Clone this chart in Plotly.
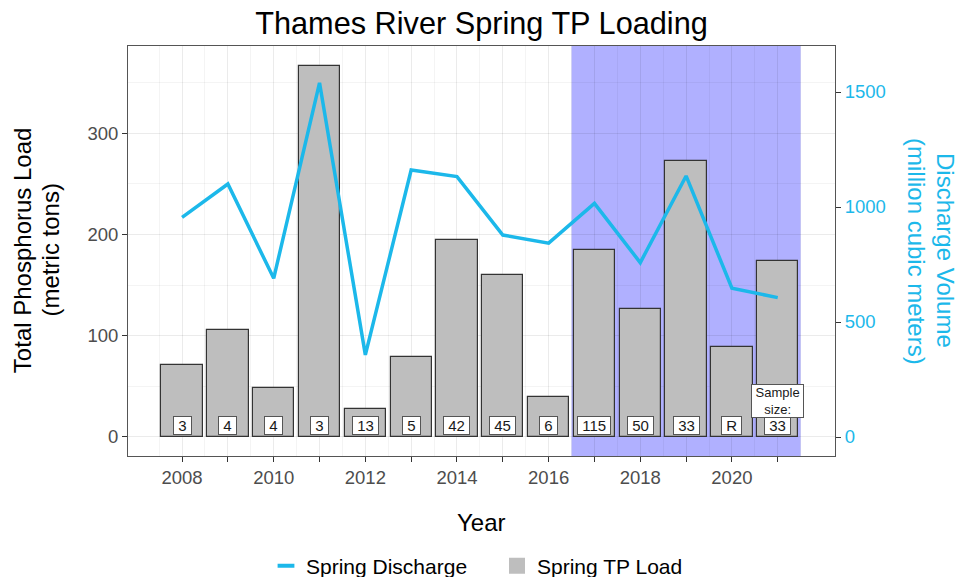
import plotly.graph_objects as go

# Spring totals for the Thames River
years = [2008, 2009, 2010, 2011, 2012, 2013, 2014, 2015, 2016, 2017, 2018, 2019, 2020, 2021]
tp_load = [71, 106, 48, 366, 28, 79, 194, 160, 39, 185, 126, 272, 89, 174]           # metric tons
discharge = [955, 1100, 690, 1540, 357, 1161, 1132, 878, 843, 1016, 758, 1135, 647, 606]  # million m^3
sample_size = ["3", "4", "4", "3", "13", "5", "42", "45", "6", "115", "50", "33", "R", "33"]
tick_labels = ["2008", "", "2010", "", "2012", "", "2014", "", "2016", "", "2018", "", "2020", ""]

BLUE = "#1CB8EA"
BAR_GREY = "#BEBEBE"
GREY_TXT = "#4D4D4D"
FONT = "Liberation Sans, Arial, sans-serif"
NBSP = "\u00a0"

fig = go.Figure()

fig.add_trace(go.Bar(
    x=years, y=tp_load, width=0.9, name="Spring TP Load", showlegend=False,
    marker=dict(color=BAR_GREY, line=dict(color="#333333", width=1.2)),
))
fig.add_trace(go.Scatter(
    x=years, y=discharge, mode="lines", name="Spring Discharge", yaxis="y2",
    line=dict(color=BLUE, width=3.5), showlegend=False,
))
# Legend keys: a short dash for the discharge line and a filled square for the bars
fig.add_trace(go.Scatter(
    x=[None], y=[None], mode="markers", name="Spring Discharge",
    marker=dict(symbol="line-ew", size=12, line=dict(color=BLUE, width=4)), legendrank=1,
))
fig.add_trace(go.Scatter(
    x=[None], y=[None], mode="markers", name="Spring TP Load",
    marker=dict(symbol="square", size=16, color=BAR_GREY), legendrank=2,
))

# Highlighted period 2017-2021
fig.add_shape(type="rect", xref="x", yref="paper", x0=2016.5, x1=2021.5, y0=0, y1=1,
              fillcolor="rgba(0,0,255,0.31)", line=dict(width=0), layer="below")

# Sample size boxes
for yr, n in zip(years, sample_size):
    fig.add_annotation(x=yr, y=11.8, xref="x", yref="y", text=NBSP + n + NBSP, showarrow=False,
                       font=dict(size=15, color="#1a1a1a", family=FONT),
                       bgcolor="white", bordercolor="#555555", borderwidth=1, borderpad=0)
fig.add_annotation(x=2021, y=36, xref="x", yref="y", text=NBSP + "Sample" + NBSP + "<br>size:",
                   showarrow=False, font=dict(size=13, color="#1a1a1a", family=FONT),
                   bgcolor="white", bordercolor="#555555", borderwidth=1, borderpad=0)

# Axis titles, one line per annotation
fig.add_annotation(x=-0.150, y=0.502, xref="paper", yref="paper", text="Total Phosphorus Load",
                   textangle=-90, showarrow=False, xanchor="center", yanchor="middle",
                   font=dict(size=24, color="black", family=FONT))
fig.add_annotation(x=-0.110, y=0.502, xref="paper", yref="paper", text="(metric tons)",
                   textangle=-90, showarrow=False, xanchor="center", yanchor="middle",
                   font=dict(size=24, color="black", family=FONT))
fig.add_annotation(x=1.157, y=0.5, xref="paper", yref="paper", text="Discharge Volume",
                   textangle=90, showarrow=False, xanchor="center", yanchor="middle",
                   font=dict(size=24, color=BLUE, family=FONT))
fig.add_annotation(x=1.116, y=0.5, xref="paper", yref="paper", text="(million cubic meters)",
                   textangle=90, showarrow=False, xanchor="center", yanchor="middle",
                   font=dict(size=24, color=BLUE, family=FONT))
fig.add_annotation(x=0.5, y=-(522 - 456) / 410, xref="paper", yref="paper", text="Year",
                   showarrow=False, xanchor="center", yanchor="middle",
                   font=dict(size=24, color="black", family=FONT))

fig.update_layout(
    width=959, height=577,
    margin=dict(l=128, r=124, t=46, b=121, autoexpand=False),
    paper_bgcolor="white", plot_bgcolor="white",
    font=dict(family=FONT, color=GREY_TXT),
    title=dict(text="Thames River Spring TP Loading", x=0.5, xanchor="center", xref="paper",
               y=0.959, yanchor="middle", font=dict(size=30.7, color="black", family=FONT)),
    xaxis=dict(
        range=[2006.82, 2022.25], tickvals=years, ticktext=tick_labels,
        ticks="outside", ticklen=5, tickcolor="#333333", tickfont=dict(size=18.5, color=GREY_TXT),
        showgrid=True, gridcolor="rgba(0,0,0,0.08)", gridwidth=1,
        minor=dict(tick0=2007.5, dtick=1, showgrid=True, gridcolor="rgba(0,0,0,0.045)", gridwidth=0.7),
        showline=True, linecolor="#555555", linewidth=1, mirror=True, zeroline=False,
    ),
    yaxis=dict(
        range=[-18.8, 386], tickvals=[0, 100, 200, 300],
        ticks="outside", ticklen=5, tickcolor="#333333", tickfont=dict(size=18.5, color=GREY_TXT),
        showgrid=True, gridcolor="rgba(0,0,0,0.08)", gridwidth=1,
        minor=dict(tick0=50, dtick=100, showgrid=True, gridcolor="rgba(0,0,0,0.045)", gridwidth=0.7),
        showline=True, linecolor="#555555", linewidth=1, mirror=True, zeroline=False,
    ),
    yaxis2=dict(
        overlaying="y", side="right", range=[-82.6, 1700], tickvals=[0, 500, 1000, 1500],
        ticks="outside", ticklen=5, tickcolor="#333333", tickfont=dict(size=18.5, color=BLUE),
        showgrid=False, zeroline=False, showline=False,
    ),
    legend=dict(orientation="h", x=(283 - 128 - 17) / 707, xanchor="left",
                y=-(566 - 456) / 410, yanchor="middle",
                font=dict(size=21, color="black"), traceorder="normal",
                entrywidth=186, entrywidthmode="pixels"),
    showlegend=True,
    bargap=0,
)

fig.write_html("out.html")
